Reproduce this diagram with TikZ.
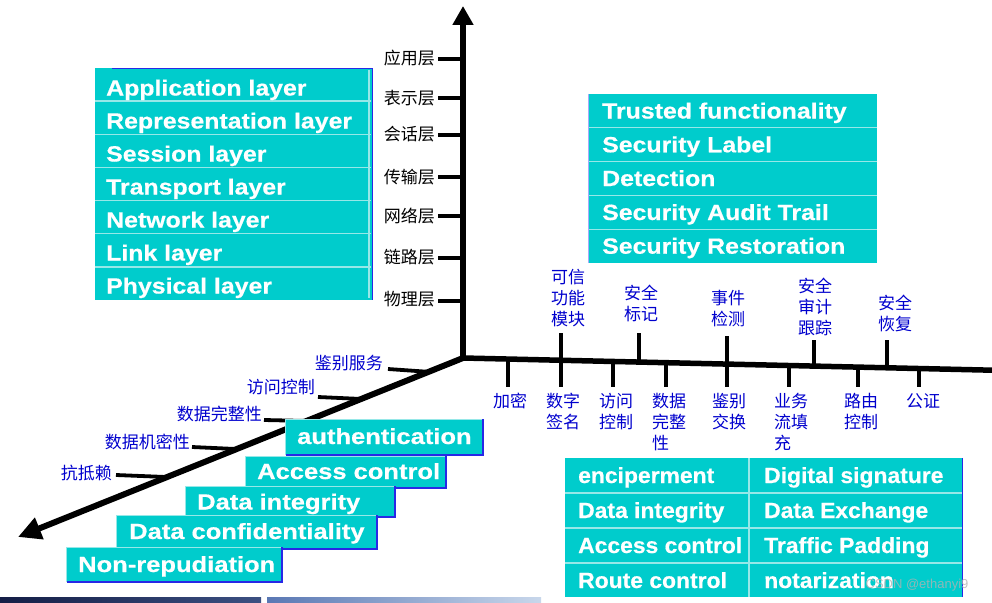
\documentclass[tikz,border=0pt]{standalone}
\usepackage{fontspec}
\setmainfont{Liberation Sans}
\newfontfamily\cjk{Noto Sans CJK SC}
\newfontfamily\bxfont{Liberation Sans Bold}[FakeStretch=1.13,FakeBold=0.5]
\newfontfamily\stfont{Liberation Sans Bold}[FakeStretch=1.16,FakeBold=0.5]
\newfontfamily\tbfont{Liberation Sans Bold}[FakeStretch=1.04,FakeBold=0.5]
\usetikzlibrary{arrows.meta}
\definecolor{tealbox}{RGB}{0,204,204}
\definecolor{sepline}{RGB}{150,232,232}
\definecolor{cblue}{RGB}{0,0,205}
\definecolor{bord}{RGB}{40,40,230}
\definecolor{lavb}{RGB}{170,170,250}
\begin{document}
\begin{tikzpicture}[x=1pt,y=-1pt,
  axisline/.style={line width=5.5pt},
  tickline/.style={line width=3.8pt},
  sepl/.style={sepline,line width=1.3pt},
  lyr/.style={anchor=base west,inner sep=0pt,text=white,font=\bxfont\fontsize{22}{22}\selectfont},
  stl/.style={anchor=base west,inner sep=0pt,text=white,font=\stfont\fontsize{22}{22}\selectfont},
  tbl/.style={anchor=base west,inner sep=0pt,text=white,font=\tbfont\fontsize{22}{22}\selectfont},
  blk/.style={anchor=east,inner sep=0pt,font=\cjk\fontsize{17}{21}\selectfont},
  bll/.style={inner sep=0pt,text=cblue,font=\cjk\fontsize{17}{21}\selectfont},
  blc/.style={bll,align=center},
  bln/.style={bll,anchor=north west,align=left},
  ble/.style={bll,anchor=east},
  stairbox/.style={fill=tealbox,draw=sepline,line width=0.8pt}
]
\useasboundingbox (0,0) rectangle (992,602);

% ---------- left layer box ----------
\fill[tealbox] (95,68) rectangle (372,300);
\foreach \yy in {101.1,134.3,167.4,200.6,233.7,266.9}
  \draw[sepl] (95,\yy) -- (371,\yy);
\draw[bord,line width=1pt] (112,68) -- (372,68) -- (372,300);
\draw[sepl] (369,70) -- (369,298);
\node[lyr] (L1) at (106,95.5) {Application layer};
\node[lyr] (L2) at (106,128.5) {Representation layer};
\node[lyr] (L3) at (106,161.5) {Session layer};
\node[lyr] (L4) at (106,194.5) {Transport layer};
\node[lyr] (L5) at (106,227.5) {Network layer};
\node[lyr] (L6) at (106,260.5) {Link layer};
\node[lyr] (L7) at (106,293.5) {Physical layer};

% ---------- right top box ----------
\fill[tealbox] (588,94) rectangle (877,263);
\foreach \yy in {127.8,161.6,195.4,229.2}
  \draw[sepl] (588,\yy) -- (877,\yy);
\draw[lavb,line width=1pt] (588,94) -- (588,263);
\node[lyr] (R1) at (602,118.5) {Trusted functionality};
\node[lyr] (R2) at (602,152.3) {Security Label};
\node[lyr] (R3) at (602,186) {Detection};
\node[lyr] (R4) at (602,220) {Security Audit Trail};
\node[lyr] (R5) at (602,253.7) {Security Restoration};

% ---------- axes ----------
\coordinate (O) at (463,358);
\coordinate (Top) at (463,6);
\coordinate (H) at (992,370.2);
\coordinate (D) at (18,537);
\draw[axisline] (O) -- (H);
\draw[axisline,line width=6pt,-{Triangle[length=23pt,width=22pt]}] (O) -- (D);
\draw[axisline,-{Triangle[length=19pt,width=20pt]}] (463,361) -- (Top);

% ---------- vertical axis labels ----------
\node[blk] (V1) at (435,58) {应用层};
\node[blk] (V2) at (435,98) {表示层};
\node[blk] (V3) at (435,134) {会话层};
\node[blk] (V4) at (435,177) {传输层};
\node[blk] (V5) at (435,216) {网络层};
\node[blk] (V6) at (435,257) {链路层};
\node[blk] (V7) at (435,299) {物理层};
\foreach \v/\yy in {V1/59,V2/98,V3/135,V4/177,V5/216,V6/258,V7/301}
  \draw[tickline] (438,\yy) -- (O |- 0,\yy);

% ---------- horizontal axis: labels above ----------
\node[blc] (T1) at (568,298) {可信\\功能\\模块};
\node[blc] (T2) at (641,303.5) {安全\\标记};
\node[blc] (T3) at (728,309) {事件\\检测};
\node[blc] (T4) at (815,306.5) {安全\\审计\\跟踪};
\node[blc] (T5) at (895,313) {安全\\恢复};
\draw[tickline] (561,333) -- (561,360.5);
\draw[tickline] (639,333) -- (639,362.2);
\draw[tickline] (727,336) -- (727,364.2);
\draw[tickline] (814,340) -- (814,366.2);
\draw[tickline] (887,340) -- (887,367.8);

% ---------- horizontal axis: labels below ----------
\foreach \xx/\yy in {508/359.4,561/360.5,613/361.7,666/362.9,727/364.2,789/365.6,858/367.2,919/368.6}
  \draw[tickline] (\xx,\yy) -- (\xx,387);
\node[bln] (B1) at (493,393) {加密};
\node[bln] (B2) at (546,393) {数字\\签名};
\node[bln] (B3) at (599,393) {访问\\控制};
\node[bln] (B4) at (652,393) {数据\\完整\\性};
\node[bln] (B5) at (712,393) {鉴别\\交换};
\node[bln] (B6) at (774,393) {业务\\流填\\充};
\node[bln] (B7) at (844,393) {路由\\控制};
\node[bln] (B8) at (906,393) {公证};

% ---------- diagonal axis labels ----------
\node[ble] (S1) at (383,363) {鉴别服务};
\node[ble] (S2) at (315,387) {访问控制};
\node[ble] (S3) at (262,414) {数据完整性};
\node[ble] (S4) at (190,442) {数据机密性};
\node[ble] (S5) at (112,473) {抗抵赖};
\draw[tickline] (388,369) -- (431,372);
\draw[tickline] (318,397) -- (362,399);
\draw[tickline] (264,420) -- (309,421);
\draw[tickline] (192,447) -- (236,449);
\draw[tickline] (116,475) -- (166,477);

% ---------- stair boxes ----------
\fill[stairbox] (285,419) rectangle (482,454);
\draw[bord,line width=1.5pt] (286,455) -- (483,455) -- (483,419);
\node[stl] (A1) at (297,444) {authentication};
\fill[stairbox] (245,456) rectangle (445,487);
\draw[bord,line width=1.5pt] (246,488) -- (446,488) -- (446,456);
\node[stl] (A2) at (257,479) {Access control};
\fill[stairbox] (185,486) rectangle (394,516);
\draw[bord,line width=1.5pt] (186,517) -- (395,517) -- (395,486);
\node[stl] (A3) at (197,509.5) {Data integrity};
\fill[stairbox] (116,515) rectangle (376,548);
\draw[bord,line width=1.5pt] (117,549) -- (377,549) -- (377,515);
\node[stl] (A4) at (129,539) {Data confidentiality};
\fill[stairbox] (66,547) rectangle (281,581);
\draw[bord,line width=1.5pt] (67,582) -- (282,582) -- (282,547);
\node[stl] (A5) at (78,572) {Non-repudiation};

% ---------- bottom right table ----------
\fill[tealbox] (565,458) rectangle (962,597);
\foreach \yy in {493,528,563}
  \draw[sepl] (565,\yy) -- (962,\yy);
\draw[sepl] (749,458) -- (749,597);
\draw[bord,line width=1pt] (962,458) -- (962,597);
\node[tbl] (M1) at (578,483) {enciperment};
\node[tbl] (M2) at (764,483) {Digital signature};
\node[tbl] (M3) at (578,518) {Data integrity};
\node[tbl] (M4) at (764,518) {Data Exchange};
\node[tbl] (M5) at (578,553) {Access control};
\node[tbl] (M6) at (764,553) {Traffic Padding};
\node[tbl] (M7) at (578,588) {Route control};
\node[tbl] (M8) at (764,588) {notarization};
\node[inner sep=0pt,text=gray!60,opacity=0.8,font=\fontsize{13}{13}\selectfont] (WM) at (917,585) {CSDN @ethanyi9};

% ---------- bottom strip ----------
\shade[left color={rgb,255:red,20;green,30;blue,70},right color={rgb,255:red,60;green,80;blue,130}] (0,597) rectangle (261,602);
\shade[left color={rgb,255:red,90;green,120;blue,180},right color={rgb,255:red,200;green,215;blue,235}] (267,597) rectangle (541,602);
\end{tikzpicture}
\end{document}
